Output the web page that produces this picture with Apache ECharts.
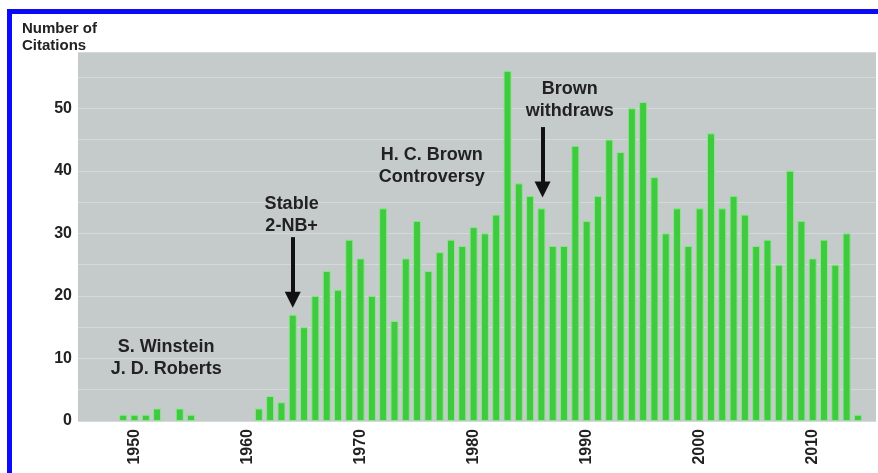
<!DOCTYPE html>
<html>
<head>
<meta charset="utf-8">
<script src="https://cdn.jsdelivr.net/npm/echarts@6/dist/echarts.min.js"></script>
<style>
  html, body { margin: 0; padding: 0; background: #fff; }
  #frame { position: absolute; left: 7px; top: 9px; width: 871px; height: 464px;
           border-top: 5px solid #0b0bf5; border-left: 5px solid #0b0bf5; box-sizing: border-box; }
  #main { position: absolute; left: 0; top: 0; width: 878px; height: 473px; }
</style>
</head>
<body>
<div id="frame"></div>
<div id="main"></div>
<script>
// citations per year, 1949 - 2014 (0 = no bar)
var years = [];
for (var y = 1949; y <= 2014; y++) years.push(y);
var citations = [
  1, 1, 1, 2, 0, 2, 1, 0, 0, 0, 0, 0,            // 1949-1960
  2, 4, 3, 17, 15, 20, 24, 21, 29, 26,           // 1961-1970
  20, 34, 16, 26, 32, 24, 27, 29, 28, 31,        // 1971-1980
  30, 33, 56, 38, 36, 34, 28, 28, 44, 32,        // 1981-1990
  36, 45, 43, 50, 51, 39, 30, 34, 28, 34,        // 1991-2000
  46, 34, 36, 33, 28, 29, 25, 40, 32, 26,        // 2001-2010
  29, 25, 30, 1                                  // 2011-2014
];
var yTicks = [0, 10, 20, 30, 40, 50];
var xTicks = [1950, 1960, 1970, 1980, 1990, 2000, 2010];

var notes = [
  { name: 'S. Winstein\nJ. D. Roberts', coord: [1952.8, 10] },
  { name: 'Stable\n2-NB+', coord: [1963.9, 33] },
  { name: 'H. C. Brown\nControversy', coord: [1976.3, 40.7] },
  { name: 'Brown\nwithdraws', coord: [1988.5, 51.4] }
];
var arrows = [
  [[1964, 29.4], [1964, 19.4]],
  [[1986.1, 47], [1986.1, 37]]
];

var barData = [];
years.forEach(function (yr, i) {
  if (citations[i] > 0) barData.push([yr, citations[i]]);
});

var chart = echarts.init(document.getElementById('main'));
chart.setOption({
  animation: false,
  title: {
    text: 'Number of\nCitations',
    left: 17, top: 15,
    textStyle: { fontFamily: 'Liberation Sans', fontSize: 15, fontWeight: 'bold', color: '#222', lineHeight: 17 }
  },
  grid: {
    left: 78, right: 2, top: 52, bottom: 52,
    show: true, backgroundColor: '#c5cbcb', borderWidth: 0
  },
  xAxis: {
    type: 'value',
    min: 1945, max: 2015.6, interval: 5,
    axisLine: { show: false },
    axisTick: { show: false },
    splitLine: { show: false },
    axisLabel: {
      rotate: 90, margin: 8,
      fontFamily: 'Liberation Sans', fontSize: 16, fontWeight: 'bold', color: '#222',
      formatter: function (v) { return xTicks.indexOf(v) >= 0 ? String(v) : ''; }
    }
  },
  yAxis: {
    type: 'value',
    min: 0, max: 59, interval: 5,
    axisLine: { show: false },
    axisTick: { show: false },
    splitLine: { lineStyle: { color: '#d4d9d9', width: 1 } },
    axisLabel: {
      margin: 6,
      fontFamily: 'Liberation Sans', fontSize: 16, fontWeight: 'bold', color: '#222',
      formatter: function (v) { return yTicks.indexOf(v) >= 0 ? String(v) : ''; }
    }
  },
  series: [{
    type: 'bar',
    barWidth: 8,
    data: barData,
    itemStyle: { color: '#3fca3f', borderColor: '#8fe58f', borderWidth: 1 },
    silent: true,
    markPoint: {
      silent: true,
      symbol: 'circle', symbolSize: 0,
      itemStyle: { color: 'rgba(0,0,0,0)' },
      label: {
        show: true, position: 'inside', formatter: '{b}',
        fontFamily: 'Liberation Sans', fontSize: 18, fontWeight: 'bold', color: '#222', lineHeight: 22
      },
      data: notes.map(function (n) { return { name: n.name, coord: n.coord }; })
    },
    markLine: {
      silent: true,
      symbol: ['none', 'triangle'],
      symbolSize: 16,
      label: { show: false },
      lineStyle: { color: '#111', width: 4, type: 'solid' },
      data: arrows.map(function (a) { return [{ coord: a[0] }, { coord: a[1] }]; })
    }
  }]
});
</script>
</body>
</html>
